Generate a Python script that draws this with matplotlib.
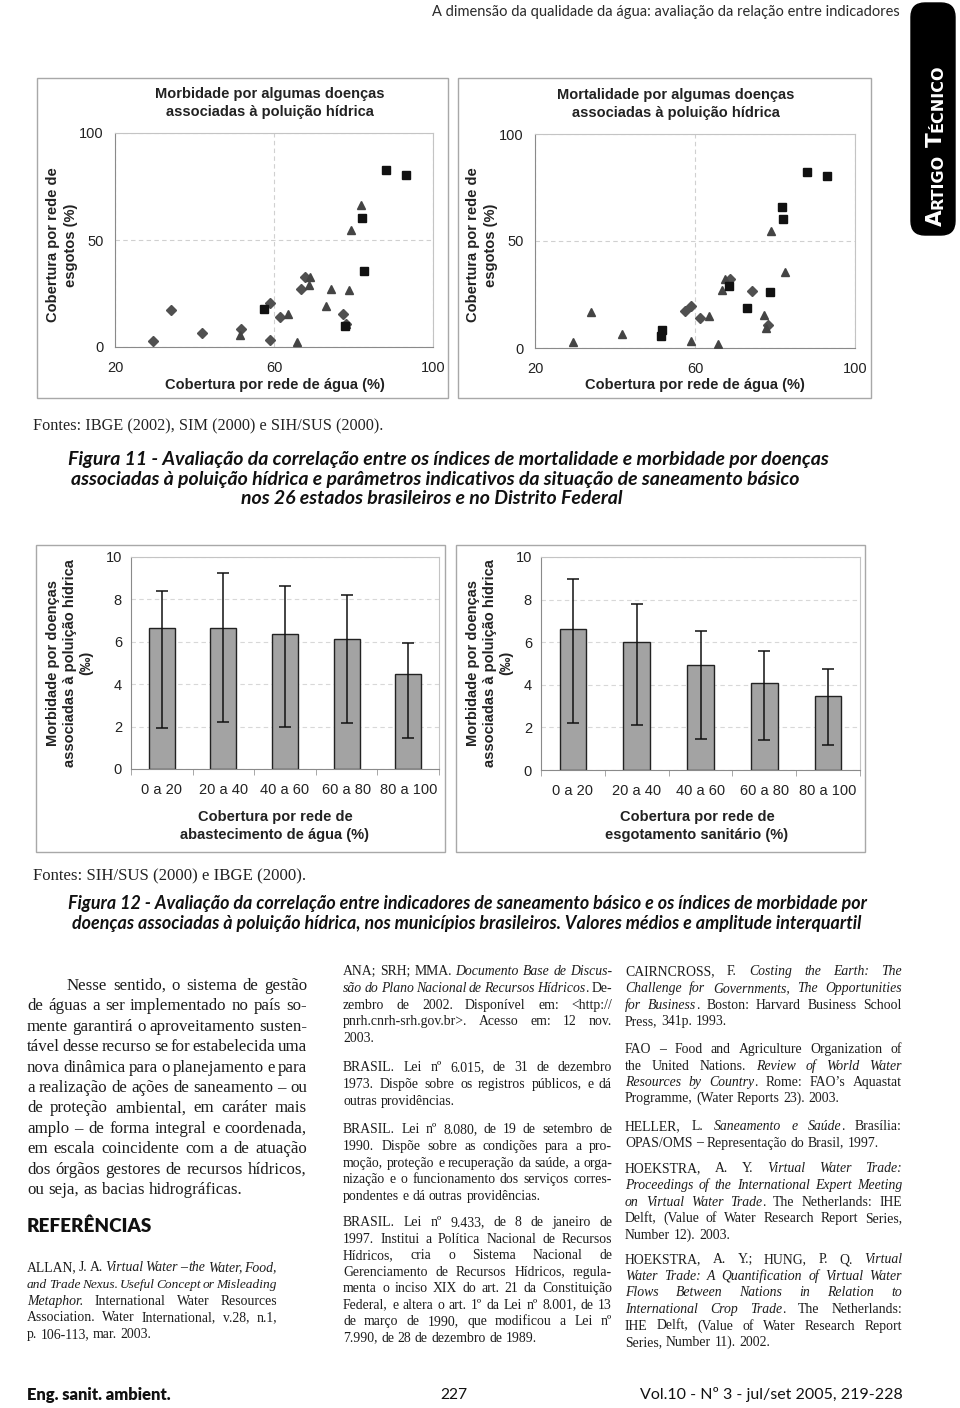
import numpy as np
import matplotlib
matplotlib.use('Agg')
import matplotlib.pyplot as plt
from matplotlib.patches import Rectangle, FancyBboxPatch

plt.rcParams['font.family'] = ['Liberation Sans', 'DejaVu Sans']

############################## data read from the page ##############################

# Figura 11 - morbidade (esquerda): cobertura de agua (x) x cobertura de esgoto (y)
morb_q_x = [88.3, 93.1, 82.2, 82.6, 57.6, 77.8]
morb_q_y = [82.8, 80.5, 60.5, 35.6, 17.7, 9.7]
morb_t_x = [81.8, 79.3, 69.0, 68.8, 74.4, 78.9, 73.2, 63.6, 51.4, 65.9, 78.0]
morb_t_y = [66.4, 54.7, 32.5, 28.9, 26.9, 26.6, 19.1, 15.2, 5.5, 2.3, 10.6]
morb_d_x = [29.6, 34.2, 41.8, 51.7, 59.1, 59.1, 61.4, 66.9, 67.8, 77.4, 78.0]
morb_d_y = [3.0, 17.2, 6.6, 8.4, 20.5, 3.4, 14.1, 27.3, 32.5, 15.6, 10.9]
morb_leg = ['< 3‰', '3 a 6‰', '> 6‰']

# Figura 11 - mortalidade (direita)
mort_q_x = [88.1, 93.1, 81.8, 82.1, 68.6, 78.75, 73.1, 51.7, 51.4]
mort_q_y = [82.4, 80.3, 66.0, 60.2, 29.0, 26.1, 18.6, 8.3, 5.5]
mort_t_x = [79.0, 82.5, 67.6, 66.8, 34.0, 63.5, 77.2, 77.75, 29.4, 41.75, 59.1, 65.75]
mort_t_y = [54.6, 35.6, 32.4, 27.0, 16.7, 15.0, 15.6, 9.5, 2.8, 6.4, 3.3, 2.0]
mort_d_x = [68.75, 74.25, 58.9, 57.5, 61.25, 78.3]
mort_d_y = [32.4, 26.7, 19.8, 17.5, 14.0, 10.9]
mort_leg = ['< 0,04‰', '0,04 a 0,07‰', '> 0,07‰']

# Figura 12 - medias e amplitude interquartil
faixas = ['0 a 20', '20 a 40', '40 a 60', '60 a 80', '80 a 100']
agua_media = [6.65, 6.65, 6.38, 6.13, 4.48]
agua_q1 = [1.93, 2.20, 1.98, 2.17, 1.45]
agua_q3 = [8.41, 9.25, 8.62, 8.19, 5.94]
esg_media = [6.63, 6.00, 4.95, 4.09, 3.46]
esg_q1 = [2.23, 2.12, 1.47, 1.41, 1.16]
esg_q3 = [8.95, 7.81, 6.52, 5.58, 4.73]

# texto da pagina (*...* = italico)
texto_col1 = [
    "Nesse sentido, o sistema de gestão",
    "de águas a ser implementado no país so-",
    "mente garantirá o aproveitamento susten-",
    "tável desse recurso se for estabelecida uma",
    "nova dinâmica para o planejamento e para",
    "a realização de ações de saneamento – ou",
    "de proteção ambiental, em caráter mais",
    "amplo – de forma integral e coordenada,",
    "em escala coincidente com a de atuação",
    "dos órgãos gestores de recursos hídricos,",
    "ou seja, as bacias hidrográficas.",
]
ref_allan = [
    "ALLAN, J. A. *Virtual Water – the Water, Food,*",
    "*and Trade Nexus. Useful Concept or Misleading*",
    "*Metaphor.* International Water Resources",
    "Association. Water International, v.28, n.1,",
    "p. 106-113, mar. 2003.",
]
ref_ana = [
    "ANA; SRH; MMA. *Documento Base de Discus-*",
    "*são do Plano Nacional de Recursos Hídricos*. De-",
    "zembro de 2002. Disponível em: <http://",
    "pnrh.cnrh-srh.gov.br>. Acesso em: 12 nov.",
    "2003.",
]
ref_lei1 = [
    "BRASIL. Lei nº 6.015, de 31 de dezembro",
    "1973.  Dispõe sobre os registros públicos, e dá",
    "outras providências.",
]
ref_lei2 = [
    "BRASIL. Lei nº 8.080, de 19 de setembro de",
    "1990. Dispõe sobre as condições para a pro-",
    "moção, proteção e recuperação da saúde, a orga-",
    "nização e o funcionamento dos serviços corres-",
    "pondentes e dá outras providências.",
]
ref_lei3 = [
    "BRASIL. Lei nº 9.433, de 8 de janeiro de",
    "1997. Institui a Política Nacional de Recursos",
    "Hídricos, cria o Sistema Nacional de",
    "Gerenciamento de Recursos Hídricos, regula-",
    "menta o inciso XIX do art. 21 da Constituição",
    "Federal, e altera o art. 1º da Lei nº 8.001, de 13",
    "de março de 1990, que modificou a Lei nº",
    "7.990, de 28 de dezembro de 1989.",
]
ref_cairn = [
    "CAIRNCROSS, F. *Costing the Earth: The*",
    "*Challenge for Governments, The Opportunities*",
    "*for Business*. Boston: Harvard Business School",
    "Press, 341p. 1993.",
]
ref_fao = [
    "FAO – Food and Agriculture Organization of",
    "the United Nations. *Review of World Water*",
    "*Resources by Country*. Rome: FAO’s Aquastat",
    "Programme, (Water Reports 23). 2003.",
]
ref_heller = [
    "HELLER, L. *Saneamento e Saúde*. Brasília:",
    "OPAS/OMS – Representação do Brasil, 1997.",
]
ref_hoek1 = [
    "HOEKSTRA, A. Y. *Virtual Water Trade:*",
    "*Proceedings of the International Expert Meeting*",
    "*on Virtual Water Trade*. The Netherlands: IHE",
    "Delft, (Value of Water Research Report Series,",
    "Number 12). 2003.",
]
ref_hoek2 = [
    "HOEKSTRA, A. Y.; HUNG, P. Q. *Virtual*",
    "*Water Trade: A Quantification of Virtual Water*",
    "*Flows Between Nations in Relation to*",
    "*International Crop Trade*. The Netherlands:",
    "IHE Delft, (Value of Water Research Report",
    "Series, Number 11). 2002.",
]

############################## page canvas ##############################

W, H = 960, 1408
fig = plt.figure(figsize=(9.6, 14.08), dpi=100)
ax0 = fig.add_axes([0, 0, 1, 1])
ax0.set_xlim(0, W)
ax0.set_ylim(H, 0)
ax0.axis('off')
R = fig.canvas.get_renderer()

SERIF = 'Liberation Serif'
HUM = ['Lato', 'DejaVu Sans']
BODY = 12.2
REF = 9.9


def px_axes(l, t, r, b):
    return fig.add_axes([l / W, 1 - b / H, (r - l) / W, (b - t) / H])


def fit(x, y, s, width, ha='left', va='center', **kw):
    t = ax0.text(x, y, s, ha=ha, va=va, **kw)
    w = t.get_window_extent(R).width
    t.set_fontsize(t.get_fontsize() * width / w)
    return t


def rich_line(x0, x1, yc, line, size, justify=True, family=SERIF):
    # split "*italic*" markup, then spread the words over the column width
    segs = [(p, k % 2 == 1) for k, p in enumerate(line.split('*')) if p]
    groups = []
    prev_space = True
    for txt, it in segs:
        for k, p in enumerate(txt.split(' ')):
            if p == '':
                prev_space = True
                continue
            if k == 0 and not prev_space and groups:
                groups[-1].append((p, it))
            else:
                groups.append([(p, it)])
            prev_space = False
    yb = yc + 0.3 * size * 100 / 72
    arts, widths = [], []
    for g in groups:
        ga, gw = [], 0
        for p, it in g:
            t = ax0.text(0, yb, p, fontsize=size, family=family,
                         style='italic' if it else 'normal',
                         va='baseline', ha='left', color='#1c1c1c')
            w = t.get_window_extent(R).width
            ga.append([t, w])
            gw += w
        arts.append(ga)
        widths.append(gw)
    space = size * 100 / 72 * 0.26
    need = sum(widths) + space * 0.5 * (len(groups) - 1)
    if justify and need > x1 - x0:
        # line too long for this font: shrink it a little
        k = (x1 - x0) / need
        for ga in arts:
            for a in ga:
                a[0].set_fontsize(size * k)
                a[1] *= k
        widths = [w * k for w in widths]
    if justify and len(groups) > 1:
        gap = (x1 - x0 - sum(widths)) / (len(groups) - 1)
    else:
        gap = space
    x = x0
    for ga in arts:
        for t, w in ga:
            t.set_x(x)
            x += w
        x += gap


def paragraph(x0, x1, y0, dy, lines, size, indent=0):
    for i, ln in enumerate(lines):
        rich_line(x0 + (indent if i == 0 else 0), x1, y0 + i * dy, ln, size,
                  justify=(i < len(lines) - 1))


############################## Figura 11 : scatter ##############################

def scatter_panel(rect, qx, qy, tx, ty, dx, dy):
    ax = px_axes(*rect)
    ax.plot(dx, dy, 'D', color='#505050', ms=4.6, ls='none', zorder=3)
    ax.plot(tx, ty, '^', color='#444444', ms=6.2, ls='none', zorder=3)
    ax.plot(qx, qy, 's', color='#111111', ms=5.6, ls='none', zorder=4)
    ax.set_xlim(20, 100)
    ax.set_ylim(0, 100)
    ax.set_xticks([20, 60, 100])
    ax.set_yticks([0, 50, 100])
    ax.grid(True, ls=(0, (4, 3)), color='#d0d0d0', lw=0.8)
    ax.set_axisbelow(True)
    ax.tick_params(length=0, labelsize=10.5, colors='#222222')
    ax.tick_params(axis='x', pad=10)
    ax.tick_params(axis='y', pad=8)
    for s in ax.spines.values():
        s.set_color('#c4c4c4')
    ax.spines['left'].set_color('#8a8a8a')
    ax.spines['bottom'].set_color('#8a8a8a')
    return ax


def legend_box(box, mx, ys, tx, labels):
    ax0.add_patch(Rectangle((box[0], box[1]), box[2] - box[0], box[3] - box[1],
                            fill=False, ec='#cfcfcf', lw=0.9, zorder=5))
    styles = [('s', '#111111', 5.6), ('^', '#444444', 6.2), ('D', '#505050', 4.6)]
    for (m, c, ms), y, lab in zip(styles, ys, labels):
        ax0.plot(mx, y, m, color=c, ms=ms, zorder=6)
        ax0.text(tx, y + 1, lab, fontsize=11, va='center', ha='left', color='#1a1a1a', zorder=6)


for bx in [(37, 78, 448, 398), (458, 78, 871, 398), (36, 545, 445, 852), (456, 545, 865, 852)]:
    ax0.add_patch(Rectangle((bx[0], bx[1]), bx[2] - bx[0], bx[3] - bx[1],
                            fill=False, ec='#a8a8a8', lw=1.0))

scatter_panel((115, 133, 433, 347), morb_q_x, morb_q_y, morb_t_x, morb_t_y, morb_d_x, morb_d_y)
scatter_panel((535, 134, 855, 348), mort_q_x, mort_q_y, mort_t_x, mort_t_y, mort_d_x, mort_d_y)
legend_box((123, 141, 254, 218), 162, [153, 179, 205], 172, morb_leg)
legend_box((544, 143, 676, 222), 562, [157, 182, 208], 572, mort_leg)

ax0.text(270, 103, 'Morbidade por algumas doenças\nassociadas à poluição hídrica', fontsize=10.5,
         fontweight='bold', ha='center', va='center', linespacing=1.3, color='#222222')
ax0.text(676, 104, 'Mortalidade por algumas doenças\nassociadas à poluição hídrica', fontsize=10.5,
         fontweight='bold', ha='center', va='center', linespacing=1.3, color='#222222')
for xc in (62, 482):
    ax0.text(xc, 245, 'Cobertura por rede de\nesgotos (%)', fontsize=10.5, fontweight='bold',
             rotation=90, ha='center', va='center', linespacing=1.3, color='#222222')
ax0.text(275, 385, 'Cobertura por rede de água (%)', fontsize=10.5, fontweight='bold',
         ha='center', va='center', color='#222222')
ax0.text(695, 385, 'Cobertura por rede de água (%)', fontsize=10.5, fontweight='bold',
         ha='center', va='center', color='#222222')


############################## Figura 12 : barras ##############################

def bar_panel(rect, media, q1, q3):
    ax = px_axes(*rect)
    x = np.arange(len(faixas))
    media = np.array(media)
    ax.bar(x, media, 0.42, color='#a3a3a3', edgecolor='#222222', lw=1.0, zorder=2)
    ax.errorbar(x, media, yerr=[media - np.array(q1), np.array(q3) - media], fmt='none',
                ecolor='#111111', elinewidth=1.1, capsize=4.3, capthick=1.1, zorder=3)
    ax.set_xlim(-0.5, 4.5)
    ax.set_ylim(0, 10)
    ax.set_yticks(range(0, 11, 2))
    ax.set_xticks(x)
    ax.set_xticklabels(faixas)
    ax.set_xticks(np.arange(-0.5, 5, 1), minor=True)
    ax.tick_params(axis='x', which='major', length=0, pad=10)
    ax.tick_params(axis='x', which='minor', length=4, color='#999999')
    ax.tick_params(axis='y', length=0, pad=6.5)
    ax.tick_params(labelsize=10.5, colors='#222222')
    ax.yaxis.grid(True, ls=(0, (4, 3)), color='#d8d8d8', lw=0.8)
    ax.set_axisbelow(True)
    for s in ax.spines.values():
        s.set_color('#c4c4c4')
    ax.spines['left'].set_color('#8a8a8a')
    ax.spines['bottom'].set_color('#8a8a8a')
    return ax


bar_panel((131, 557, 439, 769), agua_media, agua_q1, agua_q3)
bar_panel((541, 557, 860, 770), esg_media, esg_q1, esg_q3)

for xc in (70, 490):
    ax0.text(xc, 663, 'Morbidade por doenças\nassociadas à poluição hídrica\n(‰)', fontsize=10.5,
             fontweight='bold', rotation=90, ha='center', va='center', linespacing=1.25,
             color='#222222')
ax0.text(275, 826, 'Cobertura por rede de\nabastecimento de água (%)', fontsize=10.5,
         fontweight='bold', ha='center', va='center', linespacing=1.3, color='#222222')
ax0.text(697, 826, 'Cobertura por rede de\nesgotamento sanitário (%)', fontsize=10.5,
         fontweight='bold', ha='center', va='center', linespacing=1.3, color='#222222')


############################## header, captions, columns, footer ##############################

fit(900, 12, 'A dimensão da qualidade da água: avaliação da relação entre indicadores', 463,
    ha='right', family=HUM, fontsize=11, color='#2a2a2a')

ax0.add_patch(FancyBboxPatch((911, 3), 44, 232, boxstyle='round,pad=0,rounding_size=14',
                             fc='black', ec='black'))
ytab = 226
for s, fs in [('A', 15.5), ('RTIGO', 11.5), (' ', 11.5), ('T', 15.5), ('ÉCNICO', 11.5)]:
    t = ax0.text(942, ytab, s, fontsize=fs, fontweight='bold', color='white', rotation=90,
                 rotation_mode='anchor', ha='left', va='baseline', family='DejaVu Sans')
    ytab -= t.get_window_extent(R).height if s != ' ' else 7

fit(33, 426, 'Fontes: IBGE (2002), SIM (2000) e SIH/SUS (2000).', 350, family=SERIF,
    fontsize=10, color='#222222')
fit(33, 876, 'Fontes: SIH/SUS (2000) e IBGE (2000).', 272, family=SERIF, fontsize=10,
    color='#222222')

cap = dict(family=HUM, style='italic', fontweight='bold', color='#111111')
t = fit(68, 459, 'Figura 11 - Avaliação da correlação entre os índices de mortalidade e morbidade por doenças',
        759, **cap)
fs_cap = t.get_fontsize()
ax0.text(435, 479, 'associadas à poluição hídrica e parâmetros indicativos da situação de saneamento básico',
         fontsize=fs_cap, ha='center', va='center', **cap)
ax0.text(432, 498, 'nos 26 estados brasileiros e no Distrito Federal', fontsize=fs_cap,
         ha='center', va='center', **cap)
t = fit(68, 904, 'Figura 12 - Avaliação da correlação entre indicadores de saneamento básico e os índices de morbidade por',
        796, **cap)
ax0.text(467, 923, 'doenças associadas à poluição hídrica, nos municípios brasileiros. Valores médios e amplitude interquartil',
         fontsize=t.get_fontsize(), ha='center', va='center', **cap)

paragraph(27, 307, 985, 20.4, texto_col1, BODY, indent=40)
fit(27, 1226, 'REFERÊNCIAS', 125, family=HUM, fontsize=14, fontweight='heavy', color='#111111')
paragraph(27, 277, 1267, 16.7, ref_allan, REF)

paragraph(343, 612, 971, 16.7, ref_ana, REF)
paragraph(343, 612, 1067, 16.7, ref_lei1, REF)
paragraph(343, 612, 1129, 16.7, ref_lei2, REF)
paragraph(343, 612, 1222, 16.5, ref_lei3, REF)

paragraph(625, 902, 971, 16.7, ref_cairn, REF)
paragraph(625, 902, 1049, 16.4, ref_fao, REF)
paragraph(625, 902, 1126, 16.4, ref_heller, REF)
paragraph(625, 902, 1168, 16.7, ref_hoek1, REF)
paragraph(625, 902, 1259, 16.6, ref_hoek2, REF)

fit(27, 1395, 'Eng. sanit. ambient.', 143, family=HUM, fontsize=12, fontweight='heavy', color='#111111')
fit(454, 1395, '227', 27, ha='center', family=HUM, fontsize=12, color='#111111')
fit(640, 1395, 'Vol.10 - Nº 3 - jul/set 2005, 219-228', 260, family=HUM, fontsize=12, color='#111111')

fig.savefig('out.png', dpi=100)
